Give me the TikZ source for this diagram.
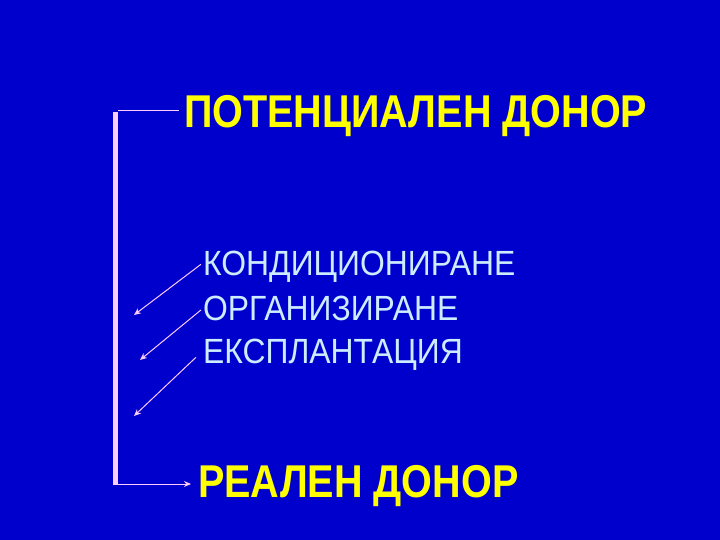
\documentclass[tikz,border=0pt]{standalone}
\usepackage{fontspec}
\setmainfont{Liberation Sans}
\newfontfamily\donorfont[FakeStretch=0.86]{Liberation Sans}
\newfontfamily\stagefont[FakeStretch=0.91]{Liberation Sans}
\usetikzlibrary{arrows.meta}
\definecolor{slideblue}{RGB}{0,0,204}
\definecolor{donoryellow}{RGB}{255,255,0}
\definecolor{itemblue}{RGB}{204,236,255}
\definecolor{barpink}{RGB}{255,204,255}
\tikzset{
	donor/.style={text=donoryellow, font=\donorfont\bfseries\fontsize{46}{46}\selectfont, inner sep=0pt, anchor=base west},
	stage/.style={text=itemblue, font=\stagefont\fontsize{35}{35}\selectfont, inner sep=0pt, anchor=base west},
	pointer/.style={draw=barpink, line width=1pt, -{Stealth[length=7pt,width=6pt]}}
}
\begin{document}
\begin{tikzpicture}[x=1pt,y=-1pt]
	
	\fill [slideblue] (0,0) rectangle (720,540);
	\useasboundingbox (0,0) rectangle (720,540);
	
	\node [donor] (potential) at (184,128) {ПОТЕНЦИАЛЕН ДОНОР};
	\node [donor] (real) at (198,497) {РЕАЛЕН ДОНОР};
	
	\node [stage] (cond) at (203,275) {КОНДИЦИОНИРАНЕ};
	\node [stage] (org) at (203,320) {ОРГАНИЗИРАНЕ};
	\node [stage] (expl) at (203,363) {ЕКСПЛАНТАЦИЯ};
	
	\fill [barpink] (113,112) rectangle (118,485);
	\coordinate (bartop) at (118,111);
	\coordinate (barfoot) at (118,484);
	
	\draw [barpink, line width=1pt] (bartop) -- (bartop -| 179,0);
	\draw [pointer] (barfoot) -- (barfoot -| 191,0);
	
	\coordinate (c1) at (134,315);
	\coordinate (c2) at (140,360);
	\coordinate (c3) at (134,416);
	\draw [pointer] ([xshift=-2pt,yshift=2pt]cond.west) -- (c1);
	\draw [pointer] ([xshift=-2pt,yshift=-2pt]org.west) -- (c2);
	\draw [pointer] ([xshift=-7pt,yshift=-3pt]expl.west) -- (c3);
	
\end{tikzpicture}
\end{document}
